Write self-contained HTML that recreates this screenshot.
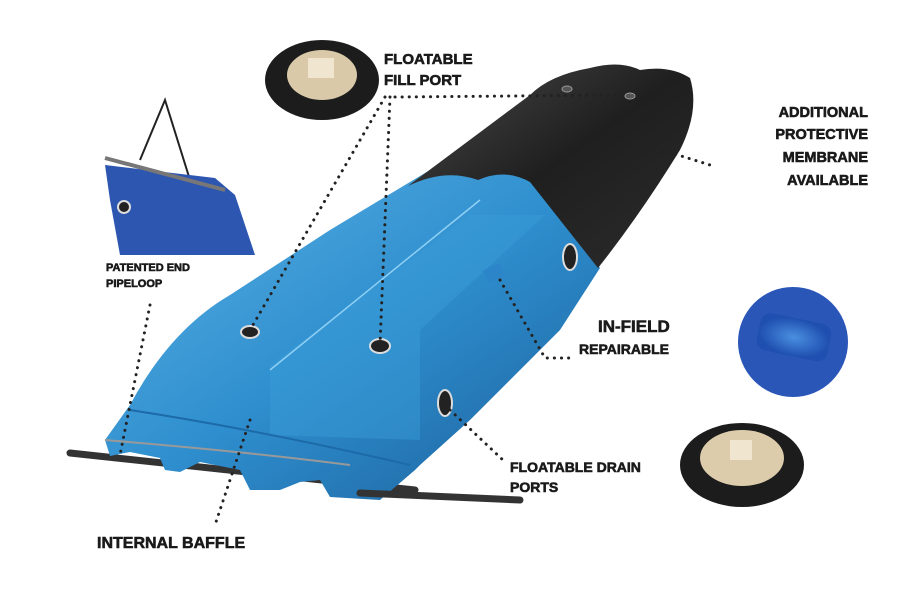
<!DOCTYPE html>
<html><head><meta charset="utf-8"><style>
html,body{margin:0;padding:0;background:#fff;width:908px;height:595px;overflow:hidden}
.t{font-family:"Liberation Sans",Arial,sans-serif;font-weight:bold;fill:#1a1a1a;stroke:#1a1a1a;stroke-width:0.6}
</style></head><body>
<svg width="908" height="595" viewBox="0 0 908 595" xmlns="http://www.w3.org/2000/svg">
<defs>
<linearGradient id="bl" x1="0" y1="0" x2="1" y2="1">
<stop offset="0" stop-color="#5fb3e3"/><stop offset="0.5" stop-color="#2f8fcf"/><stop offset="1" stop-color="#1b5f9a"/></linearGradient>
<linearGradient id="bk" x1="0" y1="0" x2="1" y2="1">
<stop offset="0" stop-color="#4a4a4a"/><stop offset="0.5" stop-color="#1f1f1f"/><stop offset="1" stop-color="#2c2c2c"/></linearGradient>
<radialGradient id="pt" cx="0.5" cy="0.5" r="0.5"><stop offset="0" stop-color="#4a8fe0"/><stop offset="1" stop-color="#1f4fb0"/></radialGradient>
</defs>
<line x1="70" y1="453" x2="415" y2="490" stroke="#333" stroke-width="7" stroke-linecap="round"/>
<!-- blue body -->
<path d="M105,440 L130,405 Q170,330 230,295 L330,230 L430,170 L520,170 L560,215 L600,268 L560,330 L470,420 L420,465 L415,470 L380,500 L330,497 L320,480 L300,482 L280,490 L250,490 L240,470 L200,462 L180,472 L165,470 L160,458 L130,452 L110,456 Z" fill="url(#bl)"/>
<path d="M270,365 L470,215 L545,215 L420,330 L420,440 L270,435 Z" fill="#3a9ed8" opacity="0.45"/>
<line x1="270" y1="370" x2="480" y2="200" stroke="#8fd0f5" stroke-width="1.5"/>
<path d="M130,410 Q260,430 410,465" stroke="#1d6aa8" stroke-width="2" fill="none"/>
<path d="M105,440 Q250,452 350,465" stroke="#999" stroke-width="2" fill="none"/>
<line x1="360" y1="493" x2="520" y2="500" stroke="#333" stroke-width="7" stroke-linecap="round"/>
<!-- black sleeve -->
<path d="M408,186 Q445,168 478,180 Q505,168 530,182 Q560,220 598,268 Q640,215 680,150 Q700,110 690,78 Q670,65 640,70 Q620,60 590,68 Q550,75 530,95 Z" fill="url(#bk)"/>
<ellipse cx="250" cy="332" rx="9" ry="6" fill="#222" stroke="#ddd" stroke-width="2"/>
<ellipse cx="380" cy="346" rx="10" ry="7" fill="#222" stroke="#ddd" stroke-width="2"/>
<ellipse cx="445" cy="403" rx="7" ry="13" fill="#222" stroke="#ddd" stroke-width="2"/>
<ellipse cx="570" cy="257" rx="7" ry="13" fill="#222" stroke="#ddd" stroke-width="2"/>
<ellipse cx="567" cy="89" rx="5" ry="3" fill="#555" stroke="#999"/>
<ellipse cx="630" cy="96" rx="5" ry="3" fill="#555" stroke="#999"/>
<rect x="485" y="266" width="18" height="14" fill="#2d85c9" transform="rotate(-25 494 273)"/>
<g stroke="#222" stroke-width="3" stroke-dasharray="0.1 7" stroke-linecap="round" fill="none">
<path d="M385,97 L250,330"/>
<path d="M390,97 L380,345"/>
<path d="M395,97 L628,95"/>
<path d="M250,420 L215,525"/>
<path d="M150,305 L120,455"/>
<path d="M662,150 L710,165"/>
<path d="M500,280 L545,358 L575,358"/>
<path d="M450,410 L505,462"/>
</g>
<ellipse cx="322" cy="80" rx="57" ry="40" fill="#1c1c1c"/>
<ellipse cx="322" cy="75" rx="35" ry="25" fill="#d9c9a8"/>
<rect x="308" y="58" width="26" height="20" fill="#f0e6cf"/>
<ellipse cx="742" cy="465" rx="62" ry="42" fill="#1c1c1c"/>
<ellipse cx="742" cy="458" rx="42" ry="28" fill="#dcccab"/>
<rect x="730" y="440" width="22" height="20" fill="#f0e6cf"/>
<circle cx="793" cy="342" r="55" fill="#2a56b8"/>
<rect x="758" y="318" width="72" height="38" rx="10" fill="url(#pt)" transform="rotate(12 793 337)"/>
<!-- tarp image -->
<path d="M140,160 L165,100 L190,180" stroke="#222" stroke-width="2" fill="none"/>
<path d="M105,165 L215,178 L235,195 L255,255 L120,255 L110,200 Z" fill="#2d56b0"/>
<line x1="105" y1="158" x2="225" y2="190" stroke="#777" stroke-width="4"/>
<circle cx="124" cy="207" r="6" fill="#222" stroke="#ddd" stroke-width="2"/>
<text class="t" x="384" y="64" font-size="15">FLOATABLE</text>
<text class="t" x="384" y="85" font-size="15">FILL PORT</text>
<text class="t" x="868" y="117" font-size="14.5" text-anchor="end">ADDITIONAL</text>
<text class="t" x="868" y="139" font-size="14.5" text-anchor="end">PROTECTIVE</text>
<text class="t" x="868" y="162" font-size="14.5" text-anchor="end">MEMBRANE</text>
<text class="t" x="868" y="185" font-size="14.5" text-anchor="end">AVAILABLE</text>
<text class="t" x="106" y="271" font-size="11">PATENTED END</text>
<text class="t" x="106" y="287" font-size="11">PIPELOOP</text>
<text class="t" x="598" y="332" font-size="17">IN-FIELD</text>
<text class="t" x="579" y="354" font-size="14">REPAIRABLE</text>
<text class="t" x="510" y="472" font-size="14">FLOATABLE DRAIN</text>
<text class="t" x="510" y="492" font-size="14">PORTS</text>
<text class="t" x="97" y="548" font-size="16">INTERNAL BAFFLE</text>
</svg>
</body></html>
